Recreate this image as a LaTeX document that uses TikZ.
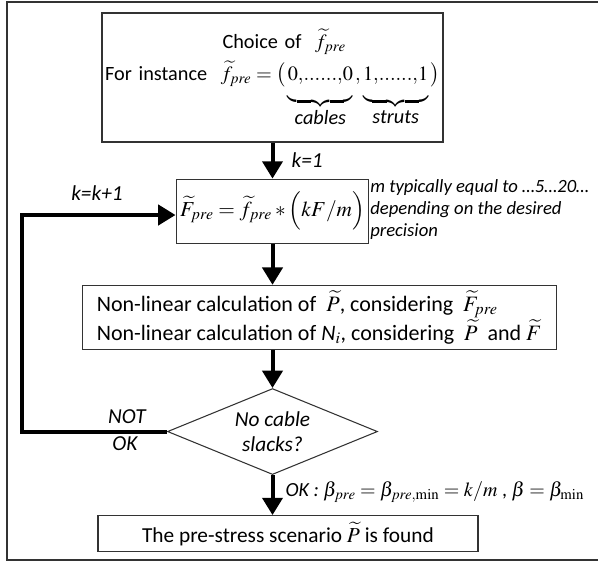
\documentclass[tikz,border=0pt]{standalone}
\usepackage{amsmath}
\usepackage{mathptmx}
\usepackage[no-math]{fontspec}
\setmainfont{Carlito}
\usepackage{tikz}
\usetikzlibrary{positioning,arrows.meta,shapes.geometric}

\newcommand\boxfont{\fontsize{16}{20}\selectfont}
\newcommand\headfont{\fontsize{15.2}{19}\selectfont}
\newcommand\lblfont{\fontsize{16}{19}\selectfont\itshape}
\newcommand\dotrun{{,}......{,}}

\begin{document}
\begin{tikzpicture}[x=0.75pt,y=-0.75pt,
  box/.style={draw=black!80, line width=0.9pt, font=\boxfont, inner sep=3pt},
  dec/.style={diamond, draw=black!80, line width=0.8pt, aspect=2.44, inner sep=0pt,
              minimum width=157.5pt, minimum height=64.5pt, align=center,
              font=\lblfont},
  arr/.style={-{Triangle[length=13pt,width=15pt]}, line width=3pt},
  lbl/.style={font=\lblfont, inner sep=1pt},
  note/.style={font=\fontsize{14}{16.5}\selectfont\itshape, align=left, inner sep=0pt}]
\useasboundingbox (0,0) rectangle (598,562);
\draw[black!80, line width=1.1pt] (598,2) -| (7,560) -- (598,560);
\node[box, minimum width=255.75pt, minimum height=96.75pt, text width=251pt, align=left,
      inner xsep=1.5pt, font=\headfont] (choice) at (272.5,77.5)
  {\hspace*{88pt}Choice of \ $\widetilde{f}_{pre}$\\[4pt]
   For instance \ \mbox{$\widetilde{f}_{pre} = \big(\underbrace{0\dotrun 0\rule[-12pt]{0pt}{12pt}}_{\text{\headfont\itshape cables}}{,}\underbrace{1\dotrun 1\rule[-12pt]{0pt}{12pt}}_{\text{\headfont\itshape struts}}\big)$}};
\node[box, minimum width=132pt, minimum height=48pt, below=27pt of choice] (force)
  {$\widetilde{F}_{pre} = \widetilde{f}_{pre} * \Big(kF/m\Big)$};
\node[box, minimum width=355.5pt, minimum height=48pt, align=left,
      font=\fontsize{16.5}{20}\selectfont, below=30.75pt of force, xshift=35pt] (calc)
  {Non-linear calculation of \ $\widetilde{P}$, considering \ $\widetilde{F}_{pre}$\\
   Non-linear calculation of \textit{N}$_{i}$, considering \ $\widetilde{P}$ \ and $\widetilde{F}$};
\node[dec, below=28.5pt of calc, xshift=-35pt] (check) {No cable\\slacks?};
\node[box, minimum width=285pt, minimum height=27pt, align=center,
      below=30pt of check, xshift=11.6pt] (found)
  {The pre-stress scenario $\widetilde{P}$ is found};
\coordinate (back) at (22,215);
% flow
\draw[arr] (choice) -- (force);
\draw[arr] (force) -- (force |- calc.north);
\draw[arr] (calc.south -| check) -- (check);
\draw[arr] (check) -- (check |- found.north);
\draw[arr] (check.west) -| (back) -- (back -| force.west);
% labels
\node[lbl, anchor=west] (kone) at (290,160) {k=1};
\node[lbl] (knext) at (97,193) {k=k+1};
\node[lbl] (notok) at (127,417) {NOT};
\node[lbl] (nok) at (125,444) {OK};
\node[note, anchor=north west] (mnote) at (370,179)
  {m typically equal to …5…20…\\depending on the desired\\precision};
\node[anchor=west, inner sep=1pt, font=\fontsize{15}{18}\selectfont] (okres) at (284,492)
  {\textit{OK :} $\beta_{pre} = \beta_{pre,\min} = k/m$ , $\beta = \beta_{\min}$};
\end{tikzpicture}
\end{document}
